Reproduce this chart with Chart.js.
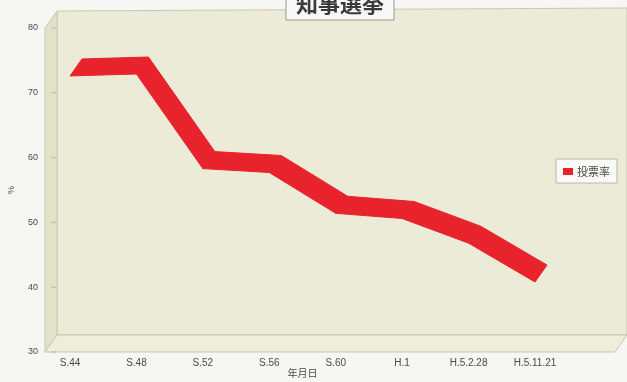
<!DOCTYPE html>
<html>
<head>
<meta charset="utf-8">
<script src="https://cdn.jsdelivr.net/npm/chart.js@4.4.1/dist/chart.umd.min.js"></script>
<style>
  html, body { margin: 0; padding: 0; background: #f6f6f3; }
  #wrap { width: 627px; height: 382px; position: relative; }
</style>
</head>
<body>
<div id="wrap"><canvas id="turnoutChart"></canvas></div>
<script>
// 知事選挙 投票率
const chartTitle = '知事選挙';
const categories = ['S.44', 'S.48', 'S.52', 'S.56', 'S.60', 'H.1', 'H.5.2.28', 'H.5.11.21'];
const turnout = [72.6, 72.9, 58.3, 57.7, 51.4, 50.6, 46.8, 40.8];
const yTicks = [30, 40, 50, 60, 70, 80];

const DEPTH = { dx: 12, dy: -17 };
const colors = {
  text: '#4a4a4a',
  ribbon: '#e8232c',
  wall: '#ecebd8',
  side: '#e3e1ca',
  floor: '#efeedc',
  edge: '#c9c7b0'
};

function poly(ctx, pts, fill, stroke) {
  ctx.beginPath();
  pts.forEach((p, i) => i ? ctx.lineTo(p[0], p[1]) : ctx.moveTo(p[0], p[1]));
  ctx.closePath();
  if (fill) { ctx.fillStyle = fill; ctx.fill(); }
  if (stroke) { ctx.strokeStyle = stroke; ctx.lineWidth = 1; ctx.stroke(); }
}

// 3D box: back wall, left side wall, floor
const wallsPlugin = {
  id: 'walls',
  beforeDatasetsDraw(chart) {
    const { ctx, chartArea, scales } = chart;
    const yS = scales.y;
    const fl = chartArea.left - 25, fr = chartArea.right + 80;
    const top = yS.getPixelForValue(80), bot = yS.getPixelForValue(30);
    const bl = fl + DEPTH.dx, br = fr + DEPTH.dx;
    ctx.save();
    poly(ctx, [[bl, top + DEPTH.dy], [br, top + DEPTH.dy - 3], [br, bot + DEPTH.dy], [bl, bot + DEPTH.dy]], colors.wall, colors.edge);
    poly(ctx, [[fl, top], [bl, top + DEPTH.dy], [bl, bot + DEPTH.dy], [fl, bot]], colors.side, colors.edge);
    poly(ctx, [[fl, bot], [bl, bot + DEPTH.dy], [br, bot + DEPTH.dy], [fr, bot]], colors.floor, colors.edge);
    // small value ticks on the side wall
    ctx.strokeStyle = '#bdbba5';
    yTicks.forEach(v => {
      const y = yS.getPixelForValue(v);
      ctx.beginPath();
      ctx.moveTo(fl + 6, y);
      ctx.lineTo(fl + 11, y);
      ctx.stroke();
    });
    ctx.restore();
  },
  afterDatasetsDraw(chart) {
    const { ctx } = chart;
    const pts = chart.getDatasetMeta(0).data.map(p => [p.x, p.y]);
    ctx.save();
    for (let i = 0; i < pts.length - 1; i++) {
      const a = pts[i], b = pts[i + 1];
      poly(ctx, [a, b, [b[0] + DEPTH.dx, b[1] + DEPTH.dy], [a[0] + DEPTH.dx, a[1] + DEPTH.dy]], colors.ribbon);
      ctx.strokeStyle = colors.ribbon;
      ctx.stroke();
    }
    ctx.restore();
  },
  afterDraw(chart) {
    const { ctx } = chart;
    ctx.save();
    // framed title, cut off at the top
    ctx.font = 'bold 22px "Noto Sans CJK JP"';
    const tw = ctx.measureText(chartTitle).width;
    const cx = 340;
    poly(ctx, [[cx - tw / 2 - 10, -12], [cx + tw / 2 + 10, -12], [cx + tw / 2 + 10, 20], [cx - tw / 2 - 10, 20]], '#f8f8f6', '#9a9a92');
    ctx.fillStyle = '#3a3a3a';
    ctx.textAlign = 'center';
    ctx.textBaseline = 'middle';
    ctx.fillText(chartTitle, cx, 4);
    // framed legend
    const label = chart.data.datasets[0].label;
    ctx.font = '11px "Noto Sans CJK JP"';
    const lw = ctx.measureText(label).width;
    const lx = 556, ly = 159;
    poly(ctx, [[lx, ly], [lx + lw + 28, ly], [lx + lw + 28, ly + 24], [lx, ly + 24]], '#f9f9f7', '#b8b8b0');
    ctx.fillStyle = colors.ribbon;
    ctx.fillRect(lx + 7, ly + 9, 10, 7);
    ctx.fillStyle = colors.text;
    ctx.textAlign = 'left';
    ctx.fillText(label, lx + 21, ly + 13);
    ctx.restore();
  }
};

new Chart(document.getElementById('turnoutChart'), {
  type: 'line',
  data: {
    labels: categories,
    datasets: [{
      label: '投票率',
      data: turnout,
      showLine: false,
      pointRadius: 0,
      borderColor: colors.ribbon,
      backgroundColor: colors.ribbon
    }]
  },
  options: {
    responsive: true,
    maintainAspectRatio: false,
    animation: false,
    layout: { padding: { top: 28, right: 92, bottom: 0, left: 0 } },
    plugins: {
      legend: { display: false },
      title: { display: false },
      tooltip: { enabled: false }
    },
    scales: {
      x: {
        offset: false,
        afterFit: s => { s.height = 30; },
        grid: { display: false, drawTicks: false },
        border: { display: false },
        ticks: {
          color: colors.text,
          font: { family: 'Liberation Sans', size: 10 },
          padding: 5,
          maxRotation: 0,
          autoSkip: false
        },
        title: {
          display: true,
          text: '年月日',
          color: colors.text,
          font: { family: 'Noto Sans CJK JP', size: 10 },
          padding: { top: 0, bottom: 3 }
        }
      },
      y: {
        min: 30,
        max: 80,
        afterFit: s => { s.width = 70; s.paddingTop = 0; s.paddingBottom = 0; },
        afterBuildTicks: s => { s.ticks = yTicks.map(v => ({ value: v })); },
        grid: { display: false, drawTicks: false },
        border: { display: false },
        ticks: {
          color: colors.text,
          font: { family: 'Liberation Sans', size: 9 },
          padding: 32
        },
        title: {
          display: true,
          text: '%',
          color: colors.text,
          font: { family: 'Liberation Sans', size: 9 },
          padding: { top: 6, bottom: 0 }
        }
      }
    }
  },
  plugins: [wallsPlugin]
});
</script>
</body>
</html>
